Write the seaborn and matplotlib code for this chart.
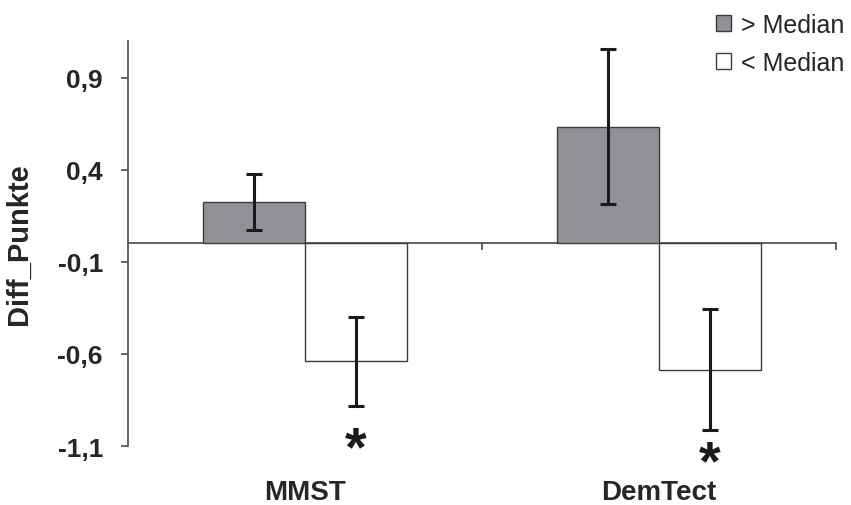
import matplotlib
matplotlib.use("Agg")
import matplotlib.pyplot as plt
import numpy as np
import pandas as pd
import seaborn as sns

# Score differences by test, split at the median
tests = ["MMST", "DemTect"]
groups = ["> Median", "< Median"]
above_mean = [0.225, 0.635]
above_err = [0.15, 0.42]
below_mean = [-0.64, -0.685]
below_err = [0.24, 0.33]
star_y = [-1.07, -1.145]
y_ticks = [-1.1, -0.6, -0.1, 0.4, 0.9]
y_tick_labels = ["-1,1", "-0,6", "-0,1", "0,4", "0,9"]

df = pd.DataFrame({
    "Test": tests * 2,
    "Gruppe": [groups[0]] * len(tests) + [groups[1]] * len(tests),
    "Diff": above_mean + below_mean,
})

sns.set_style("ticks")
plt.rcParams["font.family"] = ["Liberation Sans", "DejaVu Sans"]

axis_col = "#4a4a4a"
fig = plt.figure(figsize=(8.51, 5.06), dpi=100)
ax = fig.add_axes([0.1504, 0.1166, 0.832, 0.8004])

sns.barplot(data=df, x="Test", y="Diff", hue="Gruppe", order=tests,
            hue_order=groups, palette=["#8f9196", "#ffffff"], saturation=1,
            width=0.576, edgecolor="#3c3c3c", linewidth=1.0, errorbar=None,
            legend=False, ax=ax)

# error bars centred on each bar
for cont, m, e in zip(ax.containers, [above_mean, below_mean], [above_err, below_err]):
    xs = [b.get_x() + b.get_width() / 2 for b in cont]
    ax.errorbar(xs, m, yerr=e, fmt="none", ecolor="#1a1a1a", elinewidth=2.2,
                capsize=6, capthick=2.2, zorder=4)

# significance stars under the lower group
star_fs = 40
for b, sy in zip(ax.containers[1], star_y):
    ax.annotate("*", xy=(b.get_x() + b.get_width() / 2, sy),
                xytext=(0, -0.575 * star_fs + 6), textcoords="offset points",
                ha="center", va="baseline", fontsize=star_fs,
                fontweight="bold", color="#1a1a1a", annotation_clip=False)

ax.set_xlim(-0.5, 1.5)
ax.set_ylim(-1.1, 1.1)
for s in ["top", "right", "bottom"]:
    ax.spines[s].set_visible(False)
ax.spines["left"].set_color(axis_col)
ax.spines["left"].set_linewidth(1.2)

ax.set_yticks(y_ticks, labels=y_tick_labels)
ax.tick_params(axis="y", length=5, width=1.2, color=axis_col, pad=13,
               labelsize=19)
ax.tick_params(axis="x", length=0, pad=24, labelsize=20)
for lbl in ax.get_yticklabels() + ax.get_xticklabels():
    lbl.set_fontweight("bold")
ax.set_xlabel("")
ax.set_ylabel("Diff_Punkte", fontsize=21, fontweight="bold")
ax.yaxis.set_label_coords(-0.134, 0.5)

# category axis running through zero, ticks between categories
sec = ax.secondary_xaxis(0, transform=ax.transData)
sec.set_xticks([0.5, 1.5], labels=["", ""])
sec.tick_params(length=5, width=1.2, color=axis_col, direction="out")
sec.spines["bottom"].set_color(axis_col)
sec.spines["bottom"].set_linewidth(1.2)

ax.legend(ax.containers, groups, loc="upper left",
          bbox_to_anchor=(716 / 851, 1 - 14 / 506),
          bbox_transform=fig.transFigure, frameon=False, fontsize=18,
          handlelength=0.6, handleheight=0.6, handletextpad=0.4,
          labelspacing=0.55, borderpad=0, borderaxespad=0)

fig.savefig("out.png", dpi=100)
